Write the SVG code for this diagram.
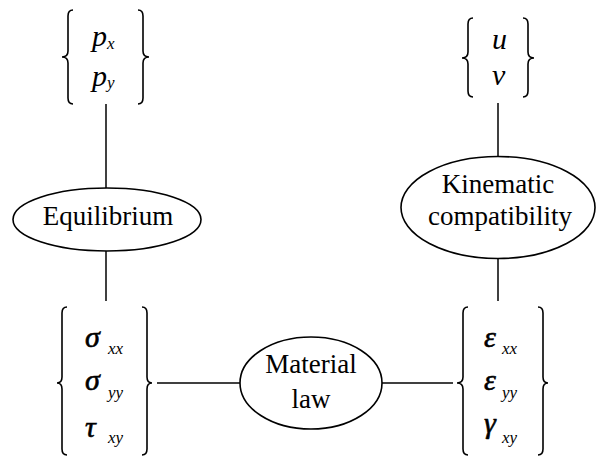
<svg xmlns="http://www.w3.org/2000/svg" width="597" height="458" viewBox="0 0 597 458">
<g id="connectors" stroke="#000" stroke-width="1.5" fill="none">
<line x1="106" y1="104" x2="106" y2="188"/>
<line x1="106" y1="251" x2="106" y2="301"/>
<line x1="157" y1="383" x2="240" y2="383"/>
<line x1="382" y1="383" x2="453" y2="383"/>
<line x1="498" y1="103" x2="498" y2="157"/>
<line x1="498" y1="258" x2="498" y2="301"/>
</g>
<g id="loads">
<path d="M73,10 Q68,10 68,16 L68,51 Q68,57 62,57 Q68,57 68,63 L68,98 Q68,104 73,104" stroke="#000" stroke-width="1.6" fill="none"/>
<path d="M138,10 Q143,10 143,16 L143,51 Q143,57 149,57 Q143,57 143,63 L143,98 Q143,104 138,104" stroke="#000" stroke-width="1.6" fill="none"/>
<text x="92" y="46" font-family="Liberation Serif" font-style="italic" font-size="30">p</text>
<text x="107" y="49" font-family="Liberation Serif" font-style="italic" font-size="17">x</text>
<text x="92" y="86" font-family="Liberation Serif" font-style="italic" font-size="30">p</text>
<text x="107" y="88" font-family="Liberation Serif" font-style="italic" font-size="17">y</text>
</g>
<g id="displacements">
<path d="M473,18 Q468,18 468,24 L468,52 Q468,58 462,58 Q468,58 468,64 L468,91 Q468,97 473,97" stroke="#000" stroke-width="1.6" fill="none"/>
<path d="M523,18 Q528,18 528,24 L528,52 Q528,58 534,58 Q528,58 528,64 L528,91 Q528,97 523,97" stroke="#000" stroke-width="1.6" fill="none"/>
<text x="492" y="49" font-family="Liberation Serif" font-style="italic" font-size="30">u</text>
<text x="492" y="85" font-family="Liberation Serif" font-style="italic" font-size="30">v</text>
</g>
<g id="equilibrium">
<ellipse cx="107" cy="219.5" rx="94" ry="31.5" stroke="#000" stroke-width="1.6" fill="#fff"/>
<text x="108" y="225" font-family="Liberation Serif" font-size="27" text-anchor="middle">Equilibrium</text>
</g>
<g id="kinematic">
<ellipse cx="498" cy="207.5" rx="97" ry="51" stroke="#000" stroke-width="1.6" fill="#fff"/>
<text x="498" y="193" font-family="Liberation Serif" font-size="27" text-anchor="middle">Kinematic</text>
<text x="500" y="225" font-family="Liberation Serif" font-size="27" text-anchor="middle">compatibility</text>
</g>
<g id="material">
<ellipse cx="311" cy="383" rx="71" ry="46" stroke="#000" stroke-width="1.6" fill="#fff"/>
<text x="311" y="373" font-family="Liberation Serif" font-size="27" text-anchor="middle">Material</text>
<text x="311" y="408" font-family="Liberation Serif" font-size="27" text-anchor="middle">law</text>
</g>
<g id="stresses">
<path d="M67,307 Q62,307 62,313 L62,377 Q62,383 57,383 Q62,383 62,389 L62,449 Q62,455 67,455" stroke="#000" stroke-width="1.6" fill="none"/>
<path d="M142,307 Q147,307 147,313 L147,377 Q147,383 152,383 Q147,383 147,389 L147,449 Q147,455 142,455" stroke="#000" stroke-width="1.6" fill="none"/>
<text x="85" y="347" font-family="Liberation Serif" font-style="italic" font-size="30" stroke="#000" stroke-width="0.6">&#963;</text>
<text x="108" y="354" font-family="Liberation Serif" font-style="italic" font-size="17">xx</text>
<text x="85" y="390" font-family="Liberation Serif" font-style="italic" font-size="30" stroke="#000" stroke-width="0.6">&#963;</text>
<text x="108" y="398" font-family="Liberation Serif" font-style="italic" font-size="17">yy</text>
<text x="85" y="437" font-family="Liberation Serif" font-style="italic" font-size="30" stroke="#000" stroke-width="0.6">&#964;</text>
<text x="108" y="443" font-family="Liberation Serif" font-style="italic" font-size="17">xy</text>
</g>
<g id="strains">
<path d="M468,307 Q463,307 463,313 L463,377 Q463,383 457,383 Q463,383 463,389 L463,449 Q463,455 468,455" stroke="#000" stroke-width="1.6" fill="none"/>
<path d="M538,307 Q543,307 543,313 L543,377 Q543,383 548,383 Q543,383 543,389 L543,449 Q543,455 538,455" stroke="#000" stroke-width="1.6" fill="none"/>
<text x="484" y="347" font-family="Liberation Serif" font-style="italic" font-size="30" stroke="#000" stroke-width="0.6">&#949;</text>
<text x="502" y="354" font-family="Liberation Serif" font-style="italic" font-size="17">xx</text>
<text x="484" y="390" font-family="Liberation Serif" font-style="italic" font-size="30" stroke="#000" stroke-width="0.6">&#949;</text>
<text x="502" y="398" font-family="Liberation Serif" font-style="italic" font-size="17">yy</text>
<text x="484" y="433" font-family="Liberation Serif" font-style="italic" font-size="30" stroke="#000" stroke-width="0.6">&#947;</text>
<text x="502" y="443" font-family="Liberation Serif" font-style="italic" font-size="17">xy</text>
</g>
</svg>
